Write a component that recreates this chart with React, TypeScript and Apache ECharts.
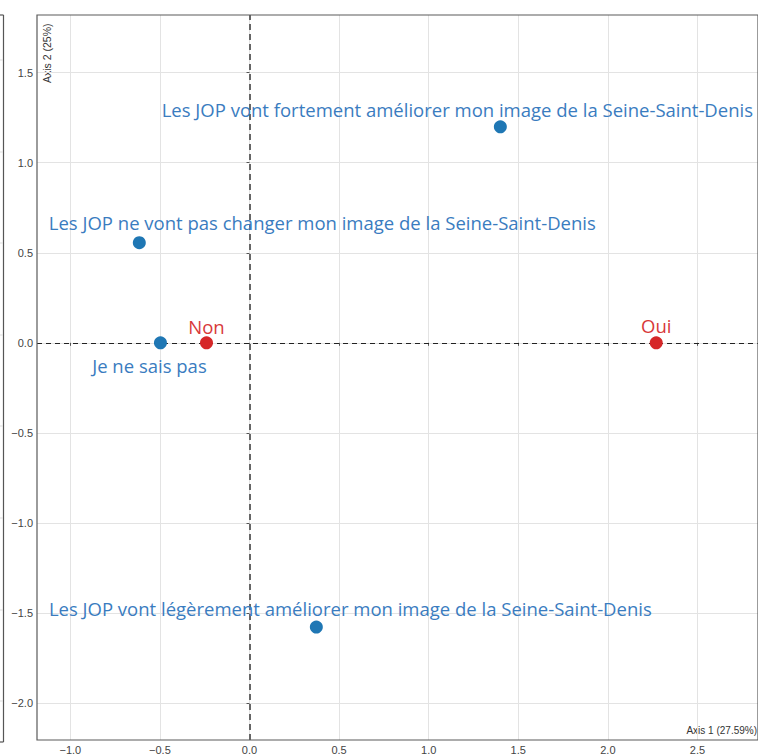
import React, { useEffect, useRef } from "react";
import * as echarts from "echarts";

// Row categories (blue points)
const rowLabels = [
  "Les JOP vont fortement améliorer mon image de la Seine-Saint-Denis",
  "Les JOP ne vont pas changer mon image de la Seine-Saint-Denis",
  "Je ne sais pas",
  "Les JOP vont légèrement améliorer mon image de la Seine-Saint-Denis",
];
const rowX = [1.4, -0.615, -0.497, 0.373];
const rowY = [1.199, 0.556, 0.0, -1.578];

// Column categories (red points)
const colLabels = ["Non", "Oui"];
const colX = [-0.24, 2.27];
const colY = [0.0, 0.0];

// Tick values
const xTicks = [-1.0, -0.5, 0.0, 0.5, 1.0, 1.5, 2.0, 2.5];
const yTicks = [-2.0, -1.5, -1.0, -0.5, 0.0, 0.5, 1.0, 1.5];

const xTitle = "Axis 1 (27.59%)";
const yTitle = "Axis 2 (25%)";

// label offsets (styling)
const rowOffsets: [number, number][] = [
  [-43, -17],
  [183, -20],
  [-11, 23],
  [34, -19],
];
const colOffsets: [number, number][] = [
  [0, -16],
  [0, -17],
];

const fmt = (v: number) => {
  const s = Math.abs(v).toFixed(1);
  return v < -1e-9 ? "\u2212" + s : s;
};

export default function App() {
  const ref = useRef<HTMLDivElement>(null);
  useEffect(() => {
    if (!ref.current) return;
    const chart = echarts.init(ref.current, null, { renderer: "svg" });
    const tickFont = { fontFamily: "Liberation Sans, Arial, sans-serif", fontSize: 11, color: "#444" };
    const leftGridYs = [60, 152, 243, 335, 426, 518, 610, 701];
    const graphics: any[] = [
      {
        type: "line",
        shape: { x1: 3.5, y1: 15, x2: 3.5, y2: 742 },
        style: { stroke: "#555", lineWidth: 1.2 },
      },
      {
        type: "line",
        shape: { x1: 0, y1: 15, x2: 3.5, y2: 15 },
        style: { stroke: "#555", lineWidth: 1.2 },
      },
      {
        type: "line",
        shape: { x1: 0, y1: 742, x2: 3.5, y2: 742 },
        style: { stroke: "#555", lineWidth: 1.2 },
      },
      ...leftGridYs.map((y) => ({
        type: "line",
        shape: { x1: 0, y1: y, x2: 3, y2: y },
        style: { stroke: "#ddd", lineWidth: 1 },
      })),
      {
        type: "text",
        right: 1,
        top: 725,
        style: {
          text: xTitle,
          fontFamily: "Liberation Sans, Arial, sans-serif",
          fontSize: 10,
          fill: "#333",
        },
      },
      {
        type: "text",
        x: 41,
        y: 83,
        rotation: Math.PI / 2,
        style: {
          text: yTitle,
          fontFamily: "Liberation Sans, Arial, sans-serif",
          fontSize: 10.5,
          fill: "#333",
        },
      },
    ];
    chart.setOption({
      animation: false,
      grid: {
        left: 37,
        top: 15,
        right: -5,
        bottom: 14,
        show: true,
        borderColor: "#5a5a5a",
        borderWidth: 1.2,
        z: 3,
      },
      xAxis: {
        type: "value",
        min: -1.186,
        max: 2.838,
        axisLine: { show: false },
        axisTick: { show: true, customValues: xTicks, length: 3, lineStyle: { color: "#555" } },
        axisLabel: { customValues: xTicks, formatter: fmt, margin: 4, ...tickFont },
        splitLine: { show: true, lineStyle: { color: "#e3e3e3", width: 1 } },
      },
      yAxis: {
        type: "value",
        min: -2.205,
        max: 1.82,
        axisLine: { show: false },
        axisTick: { show: true, customValues: yTicks, length: 3, lineStyle: { color: "#555" } },
        axisLabel: { customValues: yTicks, formatter: fmt, margin: 4, ...tickFont },
        splitLine: { show: true, lineStyle: { color: "#e3e3e3", width: 1 } },
      },
      graphic: graphics,
      series: [
        {
          type: "scatter",
          symbolSize: 13,
          itemStyle: { color: "#1f77b4", opacity: 1 },
          z: 5,
          data: rowLabels.map((name, i) => ({
            name,
            value: [rowX[i], rowY[i]],
            label: {
              show: true,
              formatter: name,
              position: "inside",
              offset: rowOffsets[i],
              color: "#3a7cbf",
              fontFamily: "Open Sans, sans-serif",
              fontSize: 18.5,
            },
          })),
          markLine: {
            silent: true,
            symbol: "none",
            label: { show: false },
            z: 2,
            data: [
              { xAxis: 0, lineStyle: { color: "#666", type: [6, 4], width: 2 } },
              { yAxis: 0, lineStyle: { color: "#222", type: [5, 4], width: 1.2 } },
            ],
          },
        },
        {
          type: "scatter",
          symbolSize: 13,
          itemStyle: { color: "#d62728", opacity: 1 },
          z: 5,
          data: colLabels.map((name, i) => ({
            name,
            value: [colX[i], colY[i]],
            label: {
              show: true,
              formatter: name,
              position: "inside",
              offset: colOffsets[i],
              color: "#d8383a",
              fontFamily: "Open Sans, sans-serif",
              fontSize: 18.5,
            },
          })),
        },
      ],
    });
    return () => chart.dispose();
  }, []);
  return (
    <div
      ref={ref}
      style={{ position: "absolute", left: 0, top: 0, width: 758, height: 755, background: "#fff" }}
    />
  );
}
